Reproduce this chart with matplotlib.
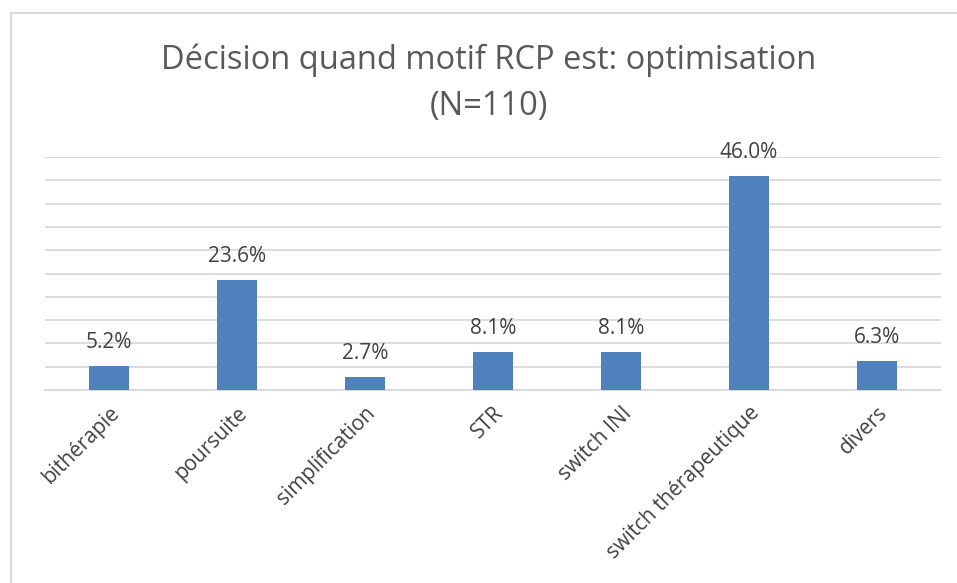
import matplotlib
matplotlib.use("Agg")
import matplotlib.pyplot as plt
from matplotlib.lines import Line2D

categories = ["bithérapie", "poursuite", "simplification", "STR", "switch INI",
              "switch thérapeutique", "divers"]
values = [5.2, 23.6, 2.7, 8.1, 8.1, 46.0, 6.3]
title = "Décision quand motif RCP est: optimisation\n(N=110)"

plt.rcParams['font.family'] = ['Open Sans', 'DejaVu Sans']

fig = plt.figure(figsize=(9.57, 5.83), dpi=100)
fig.patch.set_facecolor('white')
ax = fig.add_axes([45/957, 1-390/583, (941-45)/957, (390-157)/583])

x = list(range(len(categories)))
ax.bar(x, values, width=0.31, color='#4F81BD', zorder=3)
for xi, v in zip(x, values):
    ax.annotate(f"{v:.1f}%", (xi, v), xytext=(0, 17), textcoords='offset points',
                ha='center', va='center', fontsize=15, color='#404040')

ax.set_xlim(-0.5, len(categories) - 0.5)
ax.set_ylim(0, 50)
ax.set_yticks([i * 5 for i in range(11)])
ax.set_yticklabels([])
ax.tick_params(axis='y', length=0)
ax.tick_params(axis='x', length=0, pad=9)
ax.grid(axis='y', color='#D9D9D9', linewidth=1.3, zorder=0)
ax.set_axisbelow(True)
for s in ['top', 'right', 'left']:
    ax.spines[s].set_visible(False)
ax.spines['bottom'].set_color('#D9D9D9')
ax.spines['bottom'].set_linewidth(1.3)

ax.set_xticks(x)
ax.set_xticklabels(categories, rotation=45, ha='right', rotation_mode='anchor',
                   fontsize=15, color='#404040')

fig.text(489/957, 1-83/583, title, ha='center', va='center', fontsize=23.5,
         color='#595959', linespacing=1.5)

# chart border
fig.add_artist(Line2D([11/957, 11/957], [0, 1-13/583], transform=fig.transFigure,
                      color='#D9D9D9', linewidth=1.5))
fig.add_artist(Line2D([11/957, 1], [1-13/583, 1-13/583], transform=fig.transFigure,
                      color='#D9D9D9', linewidth=1.5))

fig.savefig("out.png", dpi=100)
